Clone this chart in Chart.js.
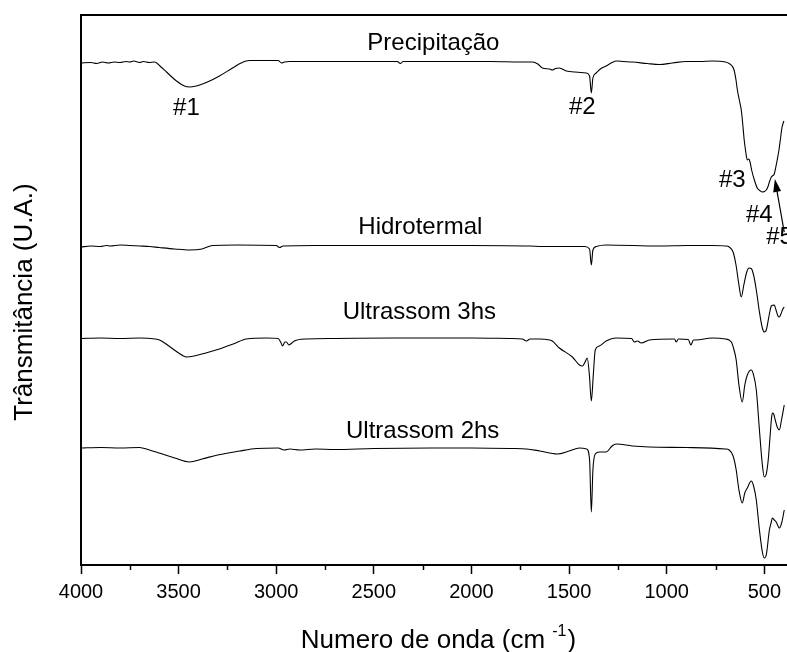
<!DOCTYPE html>
<html>
<head>
<meta charset="utf-8">
<script src="https://cdn.jsdelivr.net/npm/chart.js@4.4.0/dist/chart.umd.min.js"></script>
<style>
html, body { margin: 0; padding: 0; background: #fff; }
</style>
</head>
<body>
<canvas id="ftir" width="787" height="652"></canvas>
<script>
// FTIR spectra, transmittance in arbitrary units (traces offset)
var xTicks = [4000, 3500, 3000, 2500, 2000, 1500, 1000, 500];
var xMinorTicks = [3750, 3250, 2750, 2250, 1750, 1250, 750];
var seriesNames = ["Precipitação", "Hidrotermal", "Ultrassom 3hs", "Ultrassom 2hs"];
var peakNames = ["#1", "#2", "#3", "#4", "#5"];

var precipWave = [4000, 3950, 3920, 3890, 3860, 3830, 3800, 3770, 3750, 3730, 3700, 3680, 3650, 3624, 3590, 3562, 3511, 3470, 3444, 3410, 3378, 3330, 3291, 3224, 3180, 3137, 3050, 2990, 2973, 2958, 2930, 2800, 2600, 2380, 2364, 2350, 2100, 1900, 1750, 1688, 1660, 1637, 1600, 1586, 1570, 1550, 1514, 1470, 1412, 1395, 1386, 1378, 1361, 1340, 1310, 1280, 1259, 1220, 1176, 1100, 1038, 970, 900, 830, 767, 700, 680, 665, 655, 645, 638, 628, 618, 610, 603, 595, 587, 580, 573, 565, 551, 536, 520, 510, 500, 490, 480, 474, 464, 459, 449, 440, 434, 425, 418, 410, 400];
var precipT = [100.4, 100.5, 100.3, 100.6, 100.4, 100.6, 100.5, 100.7, 100.6, 100.8, 100.5, 100.7, 100.5, 100.6, 99.6, 98.6, 96.8, 95.8, 95.6, 95.8, 96.2, 97.0, 97.8, 99.4, 100.4, 100.9, 100.9, 100.9, 100.4, 100.6, 100.7, 100.7, 100.7, 100.7, 100.3, 100.7, 100.7, 100.7, 100.6, 100.6, 100.2, 99.4, 99.2, 99.0, 99.3, 99.4, 98.8, 98.6, 98.4, 97.8, 94.4, 97.4, 98.4, 99.2, 99.8, 100.5, 100.8, 100.7, 100.6, 100.3, 100.1, 100.4, 100.7, 100.7, 100.8, 100.6, 100.3, 99.8, 99.0, 97.0, 95.0, 93.0, 91.0, 88.0, 85.0, 82.6, 81.0, 81.2, 80.6, 79.0, 77.0, 75.4, 74.8, 74.6, 74.7, 75.0, 75.8, 76.6, 77.6, 77.8, 78.2, 79.8, 81.0, 83.0, 85.0, 87.4, 88.8];

var hidroWave = [4000, 3950, 3900, 3870, 3850, 3800, 3750, 3700, 3650, 3600, 3520, 3444, 3380, 3326, 3200, 3000, 2983, 2965, 2800, 2600, 2000, 1700, 1637, 1550, 1420, 1395, 1386, 1378, 1361, 1310, 1038, 900, 767, 700, 680, 660, 645, 630, 618, 605, 590, 578, 567, 555, 541, 525, 510, 500, 490, 475, 464, 449, 440, 430, 423, 415, 405, 398];
var hidroT = [63.6, 63.8, 63.7, 63.9, 63.8, 64.0, 63.9, 63.8, 63.7, 63.5, 63.2, 63.0, 63.2, 63.9, 64.0, 63.9, 63.5, 63.8, 63.9, 63.9, 63.9, 63.8, 63.7, 63.7, 63.7, 63.2, 60.0, 63.0, 63.7, 64.0, 63.8, 63.9, 63.9, 63.8, 63.6, 62.6, 60.0, 56.0, 53.6, 56.0, 58.6, 59.4, 59.3, 58.0, 55.0, 50.6, 47.4, 46.6, 47.0, 50.0, 51.8, 52.0, 51.0, 49.8, 49.6, 50.2, 51.2, 51.6];

var us3Wave = [4000, 3900, 3800, 3700, 3620, 3598, 3550, 3500, 3460, 3420, 3360, 3291, 3220, 3153, 3050, 2990, 2975, 2968, 2955, 2948, 2935, 2920, 2907, 2846, 2700, 2400, 2000, 1800, 1740, 1718, 1700, 1652, 1600, 1586, 1550, 1483, 1447, 1432, 1418, 1407, 1396, 1386, 1376, 1366, 1345, 1310, 1259, 1180, 1166, 1150, 1130, 1089, 960, 951, 940, 890, 876, 863, 851, 767, 700, 669, 655, 644, 630, 613, 600, 587, 567, 555, 541, 525, 510, 500, 490, 480, 470, 464, 459, 452, 444, 434, 423, 412, 398];
var us3T = [45.3, 45.4, 45.3, 45.4, 45.2, 45.0, 43.8, 42.4, 41.6, 41.8, 42.4, 43.2, 44.2, 45.2, 45.4, 45.3, 44.4, 43.8, 44.6, 44.6, 44.0, 44.4, 44.8, 45.2, 45.3, 45.4, 45.4, 45.3, 45.2, 44.8, 45.2, 45.2, 45.0, 44.8, 43.4, 41.6, 40.0, 39.8, 40.6, 41.4, 38.0, 32.8, 38.0, 43.0, 43.8, 44.8, 45.4, 45.3, 44.6, 44.8, 44.4, 45.0, 45.2, 44.6, 45.2, 45.1, 44.0, 45.0, 45.0, 45.4, 45.2, 44.6, 43.0, 41.0, 36.0, 32.6, 36.0, 38.0, 39.0, 38.0, 35.0, 27.0, 20.0, 17.6, 18.2, 21.0, 26.0, 29.0, 30.4, 30.2, 29.0, 27.6, 27.0, 29.0, 32.0];

var us2Wave = [4000, 3900, 3800, 3700, 3650, 3600, 3520, 3444, 3380, 3300, 3188, 3100, 2990, 2960, 2930, 2880, 2800, 2700, 2500, 2200, 2000, 1800, 1718, 1650, 1560, 1500, 1447, 1410, 1395, 1386, 1378, 1366, 1345, 1310, 1280, 1259, 1176, 1089, 900, 700, 680, 660, 644, 630, 613, 600, 587, 567, 555, 541, 525, 510, 500, 490, 474, 464, 459, 449, 439, 423, 410, 398];
var us2T = [23.4, 23.5, 23.4, 23.5, 23.0, 22.4, 21.4, 20.6, 21.2, 22.0, 22.8, 23.3, 23.4, 23.0, 23.2, 23.0, 23.2, 23.1, 23.3, 23.4, 23.4, 23.3, 23.2, 22.8, 22.2, 22.8, 23.4, 23.2, 21.0, 10.6, 19.0, 22.2, 22.6, 22.6, 23.8, 24.2, 23.8, 23.6, 23.5, 23.2, 23.0, 21.8, 19.0, 15.0, 12.4, 14.4, 15.4, 16.8, 15.8, 13.0, 7.0, 2.6, 1.4, 2.0, 7.0, 8.6, 9.4, 9.0, 8.6, 7.4, 8.6, 11.0];

function pts(w, t) {
    return w.map(function (v, i) { return { x: v, y: t[i] }; });
}

Chart.defaults.font.family = "'Liberation Sans', Arial, sans-serif";
Chart.defaults.color = '#000';

// where the text labels sit, in data units (wavenumber, transmittance)
var seriesLabelPos = [[2195, 104.4], [2262, 67.6], [2267, 50.6], [2250, 26.8]];
var peakLabelPos = [[3460, 91.4], [1432, 91.6], [664, 77], [526, 70], [490, 65.6]];
var arrowFrom = [398, 66.6], arrowTo = [446, 77.2];

var decorations = {
    id: 'decorations',
    afterDraw: function (chart) {
        var ctx = chart.ctx, a = chart.chartArea;
        var xs = chart.scales.x, ys = chart.scales.y;
        ctx.save();
        ctx.strokeStyle = '#000';
        ctx.fillStyle = '#000';

        // left and top frame
        ctx.lineWidth = 2;
        ctx.beginPath();
        ctx.moveTo(a.left, a.bottom);
        ctx.lineTo(a.left, a.top);
        ctx.lineTo(chart.width, a.top);
        ctx.stroke();

        // minor ticks
        ctx.lineWidth = 1.5;
        xMinorTicks.forEach(function (v) {
            var px = Math.round(xs.getPixelForValue(v)) + 0.5;
            ctx.beginPath();
            ctx.moveTo(px, a.bottom);
            ctx.lineTo(px, a.bottom + 5);
            ctx.stroke();
        });

        // series and peak labels
        ctx.font = "24px 'Liberation Sans', Arial";
        ctx.textBaseline = 'middle';
        ctx.textAlign = 'center';
        seriesNames.forEach(function (s, i) {
            ctx.fillText(s, xs.getPixelForValue(seriesLabelPos[i][0]), ys.getPixelForValue(seriesLabelPos[i][1]));
        });
        peakNames.forEach(function (s, i) {
            if (i == 4) ctx.textAlign = 'left';
            ctx.fillText(s, xs.getPixelForValue(peakLabelPos[i][0]), ys.getPixelForValue(peakLabelPos[i][1]));
        });

        // arrow pointing at #5
        var x1 = xs.getPixelForValue(arrowFrom[0]), y1 = ys.getPixelForValue(arrowFrom[1]);
        var x2 = xs.getPixelForValue(arrowTo[0]), y2 = ys.getPixelForValue(arrowTo[1]);
        var ang = Math.atan2(y2 - y1, x2 - x1);
        ctx.lineWidth = 1.2;
        ctx.beginPath();
        ctx.moveTo(x1, y1);
        ctx.lineTo(x2 - 10 * Math.cos(ang), y2 - 10 * Math.sin(ang));
        ctx.stroke();
        ctx.beginPath();
        ctx.moveTo(x2, y2);
        ctx.lineTo(x2 - 13 * Math.cos(ang) + 4 * Math.sin(ang), y2 - 13 * Math.sin(ang) - 4 * Math.cos(ang));
        ctx.lineTo(x2 - 13 * Math.cos(ang) - 4 * Math.sin(ang), y2 - 13 * Math.sin(ang) + 4 * Math.cos(ang));
        ctx.closePath();
        ctx.fill();

        // x title with superscript
        var main = 'Numero de onda (cm ', sup = '-1', tail = ')';
        ctx.textAlign = 'left';
        ctx.textBaseline = 'alphabetic';
        ctx.font = "26px 'Liberation Sans', Arial";
        var w1 = ctx.measureText(main).width, w3 = ctx.measureText(tail).width;
        ctx.font = "16px 'Liberation Sans', Arial";
        var w2 = ctx.measureText(sup).width;
        var start = 438 - (w1 + w2 + w3) / 2, base = 648;
        ctx.font = "26px 'Liberation Sans', Arial";
        ctx.fillText(main, start, base);
        ctx.fillText(tail, start + w1 + w2 + 1, base);
        ctx.font = "16px 'Liberation Sans', Arial";
        ctx.fillText(sup, start + w1, base - 12);

        // y title
        ctx.translate(25, 302);
        ctx.rotate(-Math.PI / 2);
        ctx.font = "26px 'Liberation Sans', Arial";
        ctx.textAlign = 'center';
        ctx.textBaseline = 'middle';
        ctx.fillText('Trânsmitância (U.A.)', 0, 0);
        ctx.restore();
    }
};

function lineSet(label, data) {
    return {
        label: label,
        data: data,
        borderColor: '#000',
        borderWidth: 1.1,
        pointRadius: 0,
        fill: false,
        cubicInterpolationMode: 'monotone'
    };
}

var ftirChart = new Chart(document.getElementById('ftir').getContext('2d'), {
    type: 'line',
    data: {
        datasets: [
            lineSet(seriesNames[0], pts(precipWave, precipT)),
            lineSet(seriesNames[1], pts(hidroWave, hidroT)),
            lineSet(seriesNames[2], pts(us3Wave, us3T)),
            lineSet(seriesNames[3], pts(us2Wave, us2T))
        ]
    },
    options: {
        responsive: false,
        animation: false,
        devicePixelRatio: 1,
        layout: { padding: { left: 81, top: 15, right: 0, bottom: 42 } },
        plugins: { legend: { display: false }, tooltip: { enabled: false } },
        scales: {
            x: {
                type: 'linear',
                reverse: true,
                min: 387,
                max: 4000,
                afterBuildTicks: function (scale) {
                    scale.ticks = xTicks.map(function (v) { return { value: v }; });
                },
                ticks: {
                    autoSkip: false,
                    maxRotation: 0,
                    padding: 6,
                    font: { size: 20 },
                    color: '#000',
                    callback: function (value) { return String(value); }
                },
                grid: {
                    drawOnChartArea: false,
                    tickLength: 9,
                    tickWidth: 1.5,
                    tickColor: '#000'
                },
                border: { display: true, color: '#000', width: 2 }
            },
            y: {
                display: false,
                min: 0,
                max: 110
            }
        }
    },
    plugins: [decorations]
});
</script>
</body>
</html>
